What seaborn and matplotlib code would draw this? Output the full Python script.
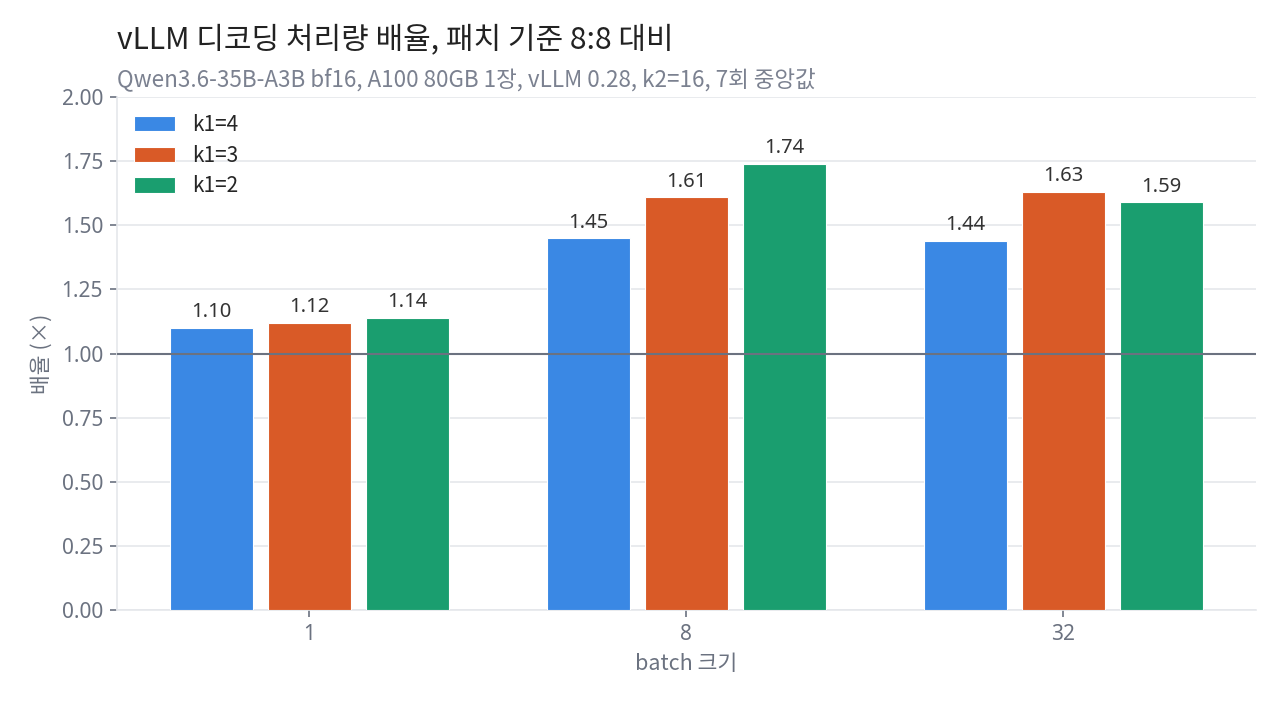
import pandas as pd
import seaborn as sns
import matplotlib.pyplot as plt

# data
batch_sizes = ["1", "8", "32"]
series = ["k1=4", "k1=3", "k1=2"]
k1_4 = [1.10, 1.45, 1.44]
k1_3 = [1.12, 1.61, 1.63]
k1_2 = [1.14, 1.74, 1.59]
colors = ["#3a88e4", "#d95a27", "#1a9e6f"]

rows = []
for name, vals in zip(series, [k1_4, k1_3, k1_2]):
    for b, v in zip(batch_sizes, vals):
        rows.append({"batch": b, "k1": name, "ratio": v})
df = pd.DataFrame(rows)

sns.set_theme(style="white")
cjk = ["Noto Sans CJK KR", "DejaVu Sans"]
num = ["Noto Sans", "DejaVu Sans"]
plt.rcParams["font.family"] = cjk

fig = plt.figure(figsize=(12.8, 7.04), dpi=100)
ax = fig.add_axes([0.0914, 0.1335, 0.8895, 0.7285])

sns.barplot(data=df, x="batch", y="ratio", hue="k1", order=batch_sizes,
            hue_order=series, palette=colors, width=0.78, gap=0.15,
            edgecolor="white", linewidth=0.8, saturation=1, ax=ax, zorder=3)

ax.axhline(1.0, color="#6b7280", linewidth=1.5, zorder=4)

ax.set_ylim(0, 2.0)
ax.set_xlim(-0.51, 2.51)
ax.set_yticks([0, 0.25, 0.5, 0.75, 1.0, 1.25, 1.5, 1.75, 2.0])
ax.set_yticklabels([f"{t:.2f}" for t in ax.get_yticks()], family=num)
ax.set_xticks(range(len(batch_sizes)))
ax.set_xticklabels(batch_sizes, family=num)
ax.yaxis.grid(True, color="#e5e7eb", linewidth=1.2, zorder=0)
ax.set_axisbelow(True)
for s in ["top", "right"]:
    ax.spines[s].set_visible(False)
for s in ["left", "bottom"]:
    ax.spines[s].set_color("#e5e7eb")
    ax.spines[s].set_linewidth(1.2)
ax.tick_params(axis="both", colors="#6b7280", labelsize=15, length=5,
               width=1.2, left=True, bottom=True, pad=5)

for cont in ax.containers:
    ax.bar_label(cont, fmt="%.2f", padding=4, fontsize=14.5, color="#333333",
                 family=num)

ax.set_xlabel("batch 크기", fontsize=15.5, color="#6b7280", labelpad=6)
ax.set_ylabel("배율 (×)", fontsize=15.5, color="#6b7280", labelpad=6)

leg = ax.legend(loc="upper left", frameon=False, fontsize=15,
                handlelength=2.0, handleheight=0.77, borderaxespad=0.4,
                labelspacing=0.42, handletextpad=0.8)

fig.text(0.0914, 0.943, "vLLM 디코딩 처리량 배율, 패치 기준 8:8 대비",
         fontsize=21.6, color="#222222", va="center")
fig.text(0.0914, 0.888, "Qwen3.6-35B-A3B bf16, A100 80GB 1장, vLLM 0.28, k2=16, 7회 중앙값",
         fontsize=16.2, color="#7b8190", va="center")

fig.savefig("out.png", dpi=100)
